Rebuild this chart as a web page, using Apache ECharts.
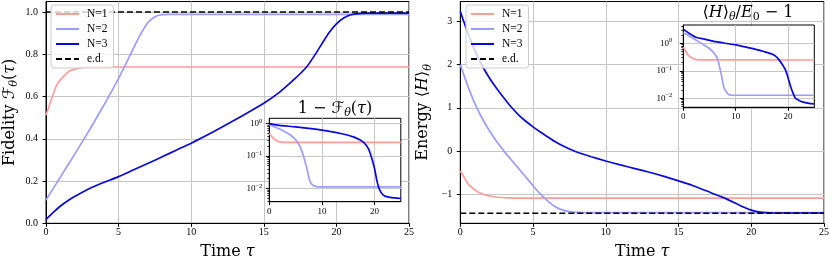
<!DOCTYPE html>
<html><head><meta charset="utf-8">
<script src="https://cdn.jsdelivr.net/npm/echarts@6/dist/echarts.min.js"></script>
<style>html,body{margin:0;padding:0;background:#fff}#c{width:830px;height:258px}</style>
</head><body><div id="c"></div>
<script>
// ---------- data ----------
const tauTicksMain = [0, 5, 10, 15, 20, 25];
const tauTicksInset = [0, 10, 20];
const fidTicks = [0, 0.2, 0.4, 0.6, 0.8, 1.0];
const energyTicks = [-1, 0, 1, 2, 3];
const logTicks = [0.01, 0.1, 1];
const logMinorLeft = [0.004,0.005,0.006,0.007,0.008,0.009,0.02,0.03,0.04,0.05,0.06,0.07,0.08,0.09,0.2,0.3,0.4,0.5,0.6,0.7,0.8,0.9];
const logMinorRight = [0.005,0.006,0.007,0.008,0.009,0.02,0.03,0.04,0.05,0.06,0.07,0.08,0.09,0.2,0.3,0.4,0.5,0.6,0.7,0.8,0.9,2,3,4];
const legendNames = ['N=1', 'N=2', 'N=3', 'e.d.'];

// Fidelity (left main)
const tauFid1 = [0, 0.28, 0.74, 1.19, 1.65, 2.34, 3, 4, 25];
const fid1    = [0.512, 0.568, 0.655, 0.694, 0.722, 0.736, 0.740, 0.740, 0.740];
const tauFid2 = [0, 1, 2, 3, 4, 5, 5.5, 6, 6.5, 7, 7.5, 8, 8.5, 25];
const fid2    = [0.110, 0.220, 0.330, 0.443, 0.561, 0.686, 0.755, 0.826, 0.893, 0.948, 0.978, 0.988, 0.989, 0.989];
const tauFid3 = [0, 0.5, 1, 1.5, 2, 3, 4, 5, 6, 7, 8, 9, 10, 11, 12, 13, 14, 15, 16, 17, 17.5, 18, 18.5, 19, 19.5, 20, 20.5, 21, 21.5, 22, 25];
const fid3    = [0.019, 0.052, 0.082, 0.107, 0.128, 0.165, 0.194, 0.221, 0.252, 0.283, 0.315, 0.347, 0.379, 0.414, 0.451, 0.489, 0.528, 0.568, 0.616, 0.676, 0.708, 0.745, 0.795, 0.850, 0.903, 0.944, 0.972, 0.987, 0.993, 0.995, 0.995];
const tauEd = [0, 25];
const edFid = [1.0, 1.0];

// 1 - F (left inset)
const tauInf1 = [0, 0.28, 0.74, 1.19, 1.65, 2.34, 3, 25];
const inf1    = [0.49, 0.43, 0.345, 0.306, 0.278, 0.264, 0.26, 0.26];
const tauInf2 = [0, 1.88, 3.26, 4.18, 5, 5.78, 6.47, 7.16, 7.5, 7.85, 8.3, 9, 10, 25];
const inf2    = [0.89, 0.685, 0.527, 0.416, 0.314, 0.203, 0.101, 0.04, 0.022, 0.015, 0.0125, 0.0113, 0.0111, 0.0111];
const tauInf3 = [0, 1.88, 5, 10, 13.8, 15, 16.1, 17, 17.94, 18.86, 19.55, 20.05, 20.4, 20.7, 21, 21.5, 22, 23, 25];
const inf3    = [0.98, 0.866, 0.779, 0.621, 0.48, 0.432, 0.377, 0.322, 0.259, 0.164, 0.078, 0.038, 0.019, 0.012, 0.0088, 0.0066, 0.0058, 0.0053, 0.0049];

// Energy (right main)
const tauE1 = [0, 0.32, 0.55, 1.24, 2.15, 3.3, 5, 25];
const e1    = [-0.46, -0.64, -0.77, -0.95, -1.05, -1.08, -1.09, -1.09];
const tauE2 = [0, 0.5, 1, 1.5, 2, 2.5, 3, 3.5, 4, 4.5, 5, 5.5, 6, 6.5, 7, 7.5, 8, 9, 25];
const e2    = [2.0, 1.52, 1.1, 0.76, 0.47, 0.22, 0.0, -0.2, -0.4, -0.6, -0.8, -0.99, -1.15, -1.28, -1.36, -1.40, -1.418, -1.425, -1.425];
const tauE3 = [0, 0.5, 1, 1.5, 2, 2.5, 3, 3.5, 4, 4.5, 5, 5.5, 6, 6.5, 7, 7.5, 8, 9, 10, 11, 12, 13, 14, 15, 16, 17, 17.5, 18, 18.5, 19, 19.5, 20, 20.5, 21, 21.5, 25];
const e3    = [3.23, 2.75, 2.33, 1.98, 1.69, 1.45, 1.23, 1.02, 0.84, 0.69, 0.56, 0.44, 0.33, 0.22, 0.13, 0.05, -0.02, -0.13, -0.23, -0.32, -0.405, -0.49, -0.585, -0.69, -0.80, -0.93, -1.0, -1.065, -1.14, -1.22, -1.30, -1.365, -1.405, -1.425, -1.432, -1.432];
const edE = [-1.44, -1.44];

// <H>/E0 - 1 (right inset)
const tauR1 = [0, 0.32, 0.55, 0.83, 1.24, 1.7, 2.15, 3, 25];
const r1    = [0.72, 0.57, 0.47, 0.39, 0.33, 0.29, 0.265, 0.25, 0.246];
const tauR2 = [0, 1.2, 2.4, 3.6, 4.9, 5.8, 6.5, 7.2, 7.8, 8.7, 10, 25];
const r2    = [2.43, 1.8, 1.32, 0.95, 0.66, 0.45, 0.28, 0.081, 0.023, 0.0135, 0.0129, 0.0129];
const tauR3 = [0, 1, 2.4, 4, 6.2, 8, 10, 12, 13.8, 15.5, 17, 17.6, 18.2, 18.8, 19.5, 20, 20.4, 20.9, 21.4, 22, 22.7, 24, 25];
const r3    = [3.24, 2.35, 1.66, 1.42, 1.14, 1.0, 0.87, 0.72, 0.6, 0.49, 0.4, 0.34, 0.26, 0.18, 0.107, 0.055, 0.03, 0.016, 0.01, 0.0085, 0.0074, 0.0065, 0.0062];

// ---------- styling ----------
const FT = '"DejaVu Serif", "Liberation Serif", serif';
const FN = '"Liberation Serif", "DejaVu Serif", serif';
const C1 = '#ff9c9c', C2 = '#9c9cff', C3 = '#0a0ad8';
const GRIDC = '#c6c6c6';

function zip(xs, ys) { return xs.map((x, i) => [x, ys[i]]); }
function richFor(size) {
  return {
    i: {fontFamily: FT, fontStyle: 'italic', fontSize: size, lineHeight: size * 1.25, color: '#000'},
    c: {fontFamily: '"DejaVu Sans", "DejaVu Serif", sans-serif', fontSize: size, lineHeight: size * 1.25, color: '#000'},
    s: {fontFamily: FT, fontStyle: 'italic', fontSize: size * 0.7, lineHeight: size * 0.7, verticalAlign: 'bottom', color: '#000'}
  };
}
function line(name, xs, ys, color, xi, yi, z, dash) {
  return {
    type: 'line', name, data: zip(xs, ys), xAxisIndex: xi, yAxisIndex: yi,
    showSymbol: false, symbol: 'none', smooth: dash ? false : 0.2,
    lineStyle: {color, width: dash ? 1.5 : 1.7, type: dash ? [6, 3] : 'solid'},
    itemStyle: {color}, z, silent: true, clip: true
  };
}
function xAx(grid, ticks, fs, margin, inset, withName) {
  const a = {
    gridIndex: grid, type: 'value', min: 0, max: 25,
    axisLine: {show: true, onZero: false, lineStyle: {color: '#000', width: 1}},
    axisTick: {show: true, length: 3.5, customValues: ticks, lineStyle: {color: '#000', width: 1}},
    axisLabel: {customValues: ticks, fontFamily: FN, fontSize: fs, color: '#000', margin},
    splitLine: {show: true, lineStyle: {color: GRIDC, width: 1}},
    z: inset ? 4 : 0
  };
  if (withName) {
    a.name = 'Time {i|τ}'; a.nameLocation = 'middle'; a.nameGap = 16;
    a.nameTextStyle = {fontFamily: FT, fontSize: 16, lineHeight: 20, color: '#000', rich: richFor(16)};
  }
  return a;
}
const logFmt = v => { const e = Math.round(Math.log10(v)); return '10{s|' + (e < 0 ? '−' + (-e) : e) + '}'; };
function logAx(grid, min, max, margin) {
  return {
    gridIndex: grid, type: 'log', logBase: 10, min, max, position: 'left',
    axisLine: {show: true, onZero: false, lineStyle: {color: '#000', width: 1}},
    axisTick: {show: true, length: 3.5, customValues: logTicks, lineStyle: {color: '#000', width: 1}},
    axisLabel: {customValues: logTicks, formatter: logFmt, fontFamily: FN, fontSize: 9, lineHeight: 12, color: '#000', margin,
      rich: {s: {fontFamily: FN, fontSize: 6.5, lineHeight: 6.5, verticalAlign: 'top', color: '#000'}}},
    splitLine: {show: true, lineStyle: {color: GRIDC, width: 1}},
    z: 4
  };
}
function minorAx(grid, min, max, vals) {
  return {
    gridIndex: grid, type: 'log', logBase: 10, min, max, position: 'left', offset: 0,
    axisLine: {show: false}, axisLabel: {show: false}, splitLine: {show: false},
    axisTick: {show: true, length: 2, customValues: vals, lineStyle: {color: '#000', width: 0.8}},
    z: 4
  };
}
function legendAt(left) {
  return {
    left, top: 5, orient: 'vertical', data: legendNames, itemWidth: 23, itemHeight: 10, itemGap: 3,
    padding: [3, 6, 3, 4], backgroundColor: 'rgba(255,255,255,0.8)', borderColor: '#cccccc', borderWidth: 1,
    borderRadius: 3, selectedMode: false, z: 10,
    itemStyle: {opacity: 0},
    textStyle: {fontFamily: FN, fontSize: 11.5, color: '#000', lineHeight: 12, padding: [0, 0, 0, 3]}
  };
}
const gridBase = {show: true, borderColor: '#000', borderWidth: 1, containLabel: false, outerBoundsMode: 'none'};

const option = {
  animation: false,
  backgroundColor: '#fff',
  grid: [
    Object.assign({left: 46, top: 1.5, width: 363, height: 221.8, backgroundColor: 'transparent', z: 0}, gridBase),
    Object.assign({left: 269.3, top: 118.3, width: 131.5, height: 83.4, backgroundColor: '#fff', z: 3}, gridBase),
    Object.assign({left: 460.3, top: 1.5, width: 363.7, height: 221.8, backgroundColor: 'transparent', z: 0}, gridBase),
    Object.assign({left: 683.3, top: 25, width: 131, height: 82.3, backgroundColor: '#fff', z: 3}, gridBase)
  ],
  xAxis: [
    xAx(0, tauTicksMain, 10, 4, false, true),
    xAx(1, tauTicksInset, 9, 5, true, false),
    xAx(2, tauTicksMain, 10, 4, false, true),
    xAx(3, tauTicksInset, 9, 5, true, false)
  ],
  yAxis: [
    {
      gridIndex: 0, type: 'value', min: 0, max: 1.05,
      axisLine: {show: true, onZero: false, lineStyle: {color: '#000', width: 1}},
      axisTick: {show: true, length: 3.5, customValues: fidTicks, lineStyle: {color: '#000', width: 1}},
      axisLabel: {customValues: fidTicks, formatter: v => v.toFixed(1), fontFamily: FN, fontSize: 10, color: '#000', margin: 8},
      splitLine: {show: true, lineStyle: {color: GRIDC, width: 1}},
      name: 'Fidelity {c|ℱ}{s|θ}({i|τ})', nameLocation: 'middle', nameGap: 26,
      nameTextStyle: {fontFamily: FT, fontSize: 16, lineHeight: 20, color: '#000', rich: richFor(16)}
    },
    logAx(1, 0.0039, 1.43, 7),
    {
      gridIndex: 2, type: 'value', min: -1.67, max: 3.46,
      axisLine: {show: true, onZero: false, lineStyle: {color: '#000', width: 1}},
      axisTick: {show: true, length: 3.5, customValues: energyTicks, lineStyle: {color: '#000', width: 1}},
      axisLabel: {customValues: energyTicks, formatter: v => (v < 0 ? '−' : '') + Math.abs(v), fontFamily: FN, fontSize: 10, color: '#000', margin: 8},
      splitLine: {show: true, lineStyle: {color: GRIDC, width: 1}},
      name: 'Energy ⟨{i|H}⟩{s|θ}', nameLocation: 'middle', nameGap: 27,
      nameTextStyle: {fontFamily: FT, fontSize: 16, lineHeight: 20, color: '#000', rich: richFor(16)}
    },
    logAx(3, 0.0047, 4.6, 11),
    minorAx(1, 0.0039, 1.43, logMinorLeft),
    minorAx(3, 0.0047, 4.6, logMinorRight)
  ],
  legend: [legendAt(51), legendAt(466)],
  graphic: [
    {type: 'text', x: 335, y: 109, z: 100, style: {
      text: '1 − {c|ℱ}{s|θ}({i|τ})', fontFamily: FT, fontSize: 16, lineHeight: 20, fill: '#000',
      align: 'center', verticalAlign: 'middle',
      rich: {
        i: {fontFamily: FT, fontStyle: 'italic', fontSize: 16, lineHeight: 20, fill: '#000'},
        c: {fontFamily: '"DejaVu Sans", sans-serif', fontSize: 16, lineHeight: 20, fill: '#000'},
        s: {fontFamily: FT, fontStyle: 'italic', fontSize: 11, lineHeight: 11, verticalAlign: 'bottom', fill: '#000'}
      }}},
    {type: 'text', x: 748, y: 13, z: 100, style: {
      text: '⟨{i|H}⟩{s|θ}/{i|E}{u|0} − 1', fontFamily: FT, fontSize: 16, lineHeight: 20, fill: '#000',
      align: 'center', verticalAlign: 'middle',
      rich: {
        i: {fontFamily: FT, fontStyle: 'italic', fontSize: 16, lineHeight: 20, fill: '#000'},
        s: {fontFamily: FT, fontStyle: 'italic', fontSize: 11, lineHeight: 11, verticalAlign: 'bottom', fill: '#000'},
        u: {fontFamily: FT, fontSize: 11, lineHeight: 11, verticalAlign: 'bottom', fill: '#000'}
      }}}
  ],
  series: [
    line('N=1', tauFid1, fid1, C1, 0, 0, 2),
    line('N=2', tauFid2, fid2, C2, 0, 0, 2),
    line('N=3', tauFid3, fid3, C3, 0, 0, 2),
    line('e.d.', tauEd, edFid, '#000', 0, 0, 2, true),
    line('N=1', tauInf1, inf1, C1, 1, 1, 5),
    line('N=2', tauInf2, inf2, C2, 1, 1, 5),
    line('N=3', tauInf3, inf3, C3, 1, 1, 5),
    line('N=1', tauE1, e1, C1, 2, 2, 2),
    line('N=2', tauE2, e2, C2, 2, 2, 2),
    line('N=3', tauE3, e3, C3, 2, 2, 2),
    line('e.d.', tauEd, edE, '#000', 2, 2, 2, true),
    line('N=1', tauR1, r1, C1, 3, 3, 5),
    line('N=2', tauR2, r2, C2, 3, 3, 5),
    line('N=3', tauR3, r3, C3, 3, 3, 5)
  ]
};
const chart = echarts.init(document.getElementById('c'), null, {renderer: 'canvas'});
chart.setOption(option);
</script></body></html>
